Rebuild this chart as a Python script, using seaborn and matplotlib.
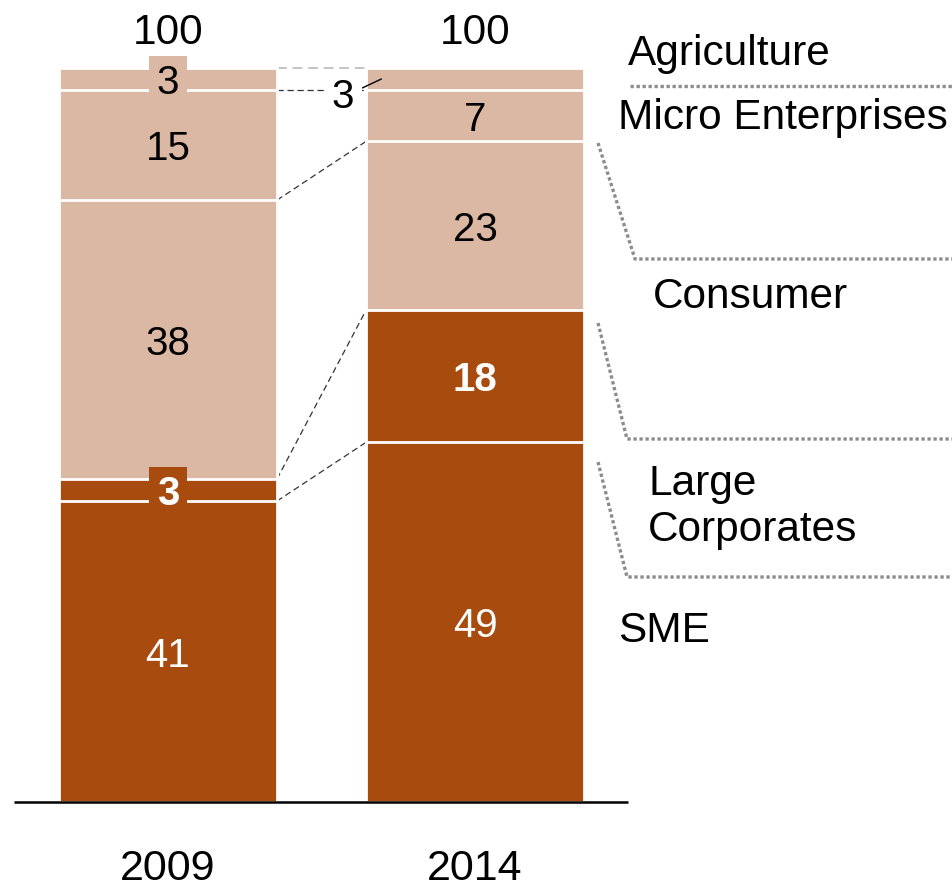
import numpy as np
import pandas as pd
import matplotlib
matplotlib.use("Agg")
import matplotlib.pyplot as plt
import seaborn as sns

# ---- data -------------------------------------------------------------
years = ["2009", "2014"]
segments = ["SME", "Large Corporates", "Consumer", "Micro Enterprises", "Agriculture"]
sme = [41, 49]
large_corporates = [3, 18]
consumer = [38, 23]
micro_enterprises = [15, 7]
agriculture = [3, 3]
totals = [100, 100]

# ---- style ------------------------------------------------------------
LIGHT = "#DBB8A3"
DARK = "#A84B0F"
seg_colors = [DARK, DARK, LIGHT, LIGHT, LIGHT]
text_colors = ["white", "white", "black", "black", "black"]
text_weights = ["normal", "bold", "normal", "normal", "normal"]

sns.set_theme(style="white")
plt.rcParams["font.family"] = ["Liberation Sans", "DejaVu Sans"]
plt.rcParams["text.color"] = "black"

W, H = 953, 889
fig = plt.figure(figsize=(W / 100, H / 100), dpi=100)
ax = fig.add_axes([0, 0, 1, 1])

# pixel layout helpers (bar centres 307 px apart, 7.34 px per percentage point)
X0, XS = 168, 307
Y0, YS = 802, 7.34


def px_x(px):
    return (px - X0) / XS


def px_y(py):
    return (Y0 - py) / YS


values = np.array([sme, large_corporates, consumer, micro_enterprises, agriculture], dtype=float)
tops = values.cumsum(axis=0)
bottoms = tops - values
bar_width = 0.71
half = bar_width / 2

# stacked bars: draw cumulative totals from the top down so lower segments overlay
for i in reversed(range(len(segments))):
    df = pd.DataFrame({"year": years, "value": tops[i]})
    sns.barplot(data=df, x="year", y="value", color=seg_colors[i], width=bar_width,
                saturation=1, errorbar=None, edgecolor="white", linewidth=2,
                ax=ax, zorder=2)

ax.set_xlim(px_x(0), px_x(W))
ax.set_ylim(px_y(H), px_y(0))
ax.set_axis_off()

# baseline
ax.plot([px_x(14), px_x(628)], [0, 0], color="black", lw=1.8, zorder=3,
        solid_capstyle="butt")

# dashed connectors between matching segment boundaries
for i in range(len(segments)):
    top_seg = i == len(segments) - 1
    ax.plot([half, 1 - half], [tops[i, 0], tops[i, 1]],
            color="#C4C4C4" if top_seg else "#333333",
            lw=1.4 if top_seg else 0.9, dashes=(5, 3), zorder=1)

# segment value labels
FS_VAL = 29
for i in range(len(segments)):
    for j in range(len(years)):
        v = values[i, j]
        mid = (bottoms[i, j] + tops[i, j]) / 2
        label = f"{v:g}"
        if v < 5 and j == 1:
            # small segment on the right bar: label outside with a leader line
            ax.annotate(label, xy=(1 - half + 0.05, mid), xytext=(px_x(343), px_y(93)),
                        ha="center", va="center_baseline", fontsize=FS_VAL,
                        color="black", zorder=6,
                        bbox=dict(boxstyle="square,pad=0.2", fc="white", ec="none"),
                        arrowprops=dict(arrowstyle="-", color="black", lw=1,
                                        shrinkA=0, shrinkB=0))
        elif v < 5:
            ax.text(j, mid, label, ha="center", va="center_baseline", fontsize=FS_VAL,
                    color=text_colors[i], weight=text_weights[i], zorder=6,
                    bbox=dict(boxstyle="square,pad=0.2", fc=seg_colors[i], ec="none"))
        else:
            ax.text(j, mid, label, ha="center", va="center_baseline", fontsize=FS_VAL,
                    color=text_colors[i], weight=text_weights[i], zorder=6)

# totals above bars
for j, t in enumerate(totals):
    ax.text(j, px_y(28), f"{t}", ha="center", va="center_baseline", fontsize=30.5,
            color="black", zorder=6)

# year labels
for j, y in enumerate(years):
    ax.text(j, px_y(864), y, ha="center", va="center_baseline", fontsize=31,
            color="black", zorder=6)

# category labels on the right
FS_CAT = 30.5
ax.text(px_x(628), px_y(49), "Agriculture", ha="left", va="center_baseline", fontsize=FS_CAT)
ax.text(px_x(618), px_y(113), "Micro Enterprises", ha="left", va="center_baseline", fontsize=FS_CAT)
ax.text(px_x(653), px_y(292), "Consumer", ha="left", va="center_baseline", fontsize=FS_CAT)
ax.text(px_x(648), px_y(507), "Large\nCorporates", ha="left", va="center", fontsize=FS_CAT,
        linespacing=1.2)
ax.text(px_x(618), px_y(627), "SME", ha="left", va="center_baseline", fontsize=FS_CAT)

# dotted group brackets
dot_kw = dict(color="#8C8C8C", lw=2.4, dashes=(1, 0.8), zorder=1, clip_on=False)
brackets = [
    [(630, 86), (953, 86)],
    [(598, 143), (635, 259), (953, 259)],
    [(598, 323), (627, 439), (953, 439)],
    [(598, 462), (627, 577), (953, 577)],
]
for pts in brackets:
    xs = [px_x(p[0]) for p in pts]
    ys = [px_y(p[1]) for p in pts]
    ax.plot(xs, ys, **dot_kw)

fig.savefig("out.png", dpi=100)
